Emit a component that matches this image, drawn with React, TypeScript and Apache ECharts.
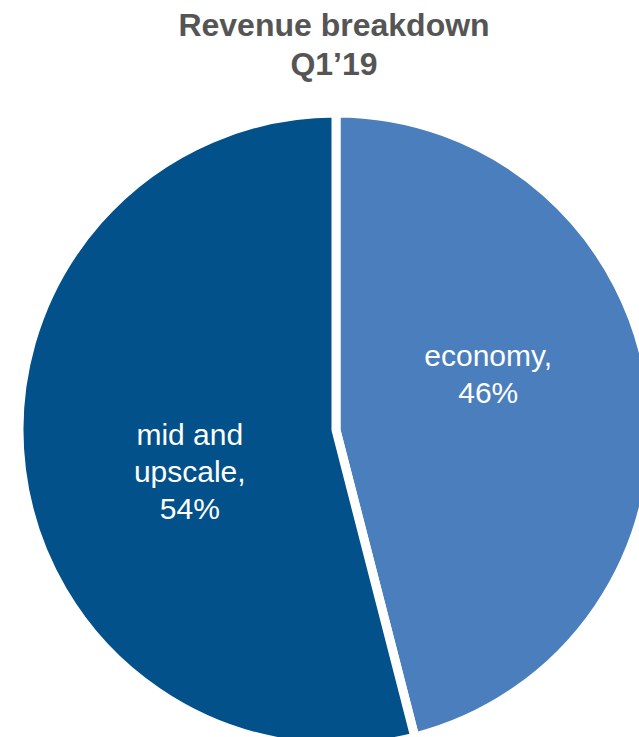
import React, { useEffect, useRef } from "react";
import * as echarts from "echarts";

const categories = ["economy", "mid and\nupscale"];
const shares = [46, 54];
const colors = ["#4a7ebc", "#02518a"];
const titleText = "Revenue breakdown\nQ1\u201919";

export default function App() {
  const ref = useRef<HTMLDivElement>(null);
  useEffect(() => {
    if (!ref.current) return;
    const chart = echarts.init(ref.current, null, { renderer: "svg" });
    const font = 'Arial, "Liberation Sans", sans-serif';
    chart.setOption({
      animation: false,
      title: {
        text: titleText,
        left: 334,
        top: 5,
        padding: 0,
        textAlign: "center",
        textStyle: {
          fontFamily: font,
          fontWeight: "bold",
          fontSize: 32,
          lineHeight: 39,
          color: "#555555",
        },
      },
      series: [
        {
          type: "pie",
          center: [336, 430],
          radius: 317,
          startAngle: 90,
          clockwise: true,
          itemStyle: { borderColor: "#ffffff", borderWidth: 9 },
          label: {
            show: true,
            position: "inside",
            formatter: (p: any) => `${p.name},\n${p.percent.toFixed(0)}%`,
            color: "#ffffff",
            fontFamily: font,
            fontSize: 30,
            lineHeight: 37,
            align: "center",
          },
          labelLine: { show: false },
          labelLayout: (params: any) =>
            params.dataIndex === 0 ? { dx: -8, dy: -36 } : { dx: 14, dy: 21 },
          emphasis: { disabled: true },
          data: categories.map((c, i) => ({
            name: c,
            value: shares[i],
            itemStyle: { color: colors[i] },
          })),
        },
      ],
    });
    return () => chart.dispose();
  }, []);
  return (
    <div
      ref={ref}
      style={{ position: "fixed", left: 0, top: 0, width: 639, height: 737, background: "#fff" }}
    />
  );
}
